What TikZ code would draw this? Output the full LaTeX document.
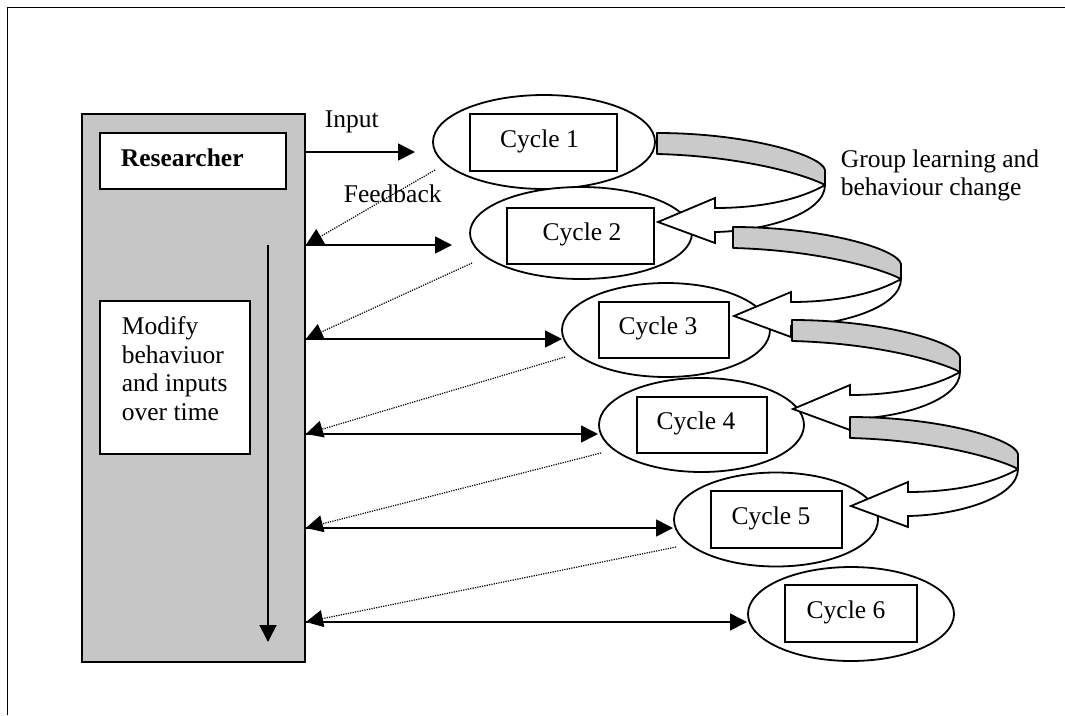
\documentclass[tikz,border=0pt]{standalone}
\usepackage{fontspec}
\setmainfont{Liberation Serif}
\usetikzlibrary{arrows.meta,shapes.geometric}
\definecolor{panelgray}{RGB}{198,198,198}
\definecolor{ribbongray}{RGB}{202,202,202}

\tikzset{
  % twisted block arrow: grey back face going right, white front face returning as an arrow
  ribbon/.pic={
    \draw[fill=ribbongray, line join=round]
      (0,0) .. controls (90,0) and (165,22) .. (168,37) -- (168,52)
      .. controls (145,40) and (80,23) .. (0,21) -- cycle;
    \draw[fill=white, line join=miter]
      (168,52) .. controls (140,68) and (100,75) .. (58,75) -- (58,65) -- (1,89)
      -- (58,110) -- (58,99) .. controls (110,98) and (168,80) .. (168,52) -- cycle;
  }
}

\begin{document}
\begin{tikzpicture}[x=1pt,y=-1pt,line width=1.8pt,
  font=\fontsize{25.5}{28.6}\selectfont,
  cyc/.style={ellipse, draw, fill=white, inner sep=0pt, minimum height=94pt},
  cbox/.style={rectangle, draw, fill=white, inner sep=0pt, minimum height=57pt},
  lbl/.style={inner sep=0pt},
  tip/.style={line width=1.6pt, -{Triangle[length=17pt,width=17pt]}},
  fb/.style={line width=1.2pt, dash pattern=on 1.2pt off 1.2pt, -{Triangle[length=17pt,width=17pt]}}
]
\useasboundingbox (0,0) rectangle (1065,715);

% frame
\draw[line width=1.5pt] (7.5,715) -- (7.5,7.5) -- (1065,7.5);

% researcher panel
\node[draw, fill=panelgray, minimum width=223pt, minimum height=548pt, inner sep=0pt] (res) at (193.5,388) {};
\node[draw, fill=white, minimum width=186pt, minimum height=56pt, inner sep=0pt] (rbox) at (193,161) {};
\node[lbl, anchor=base west, font=\fontsize{25.5}{28.6}\selectfont\bfseries] (rtxt) at (120,166) {Researcher};
\node[draw, fill=white, minimum width=150pt, minimum height=153pt, inner sep=0pt] (mbox) at (175,377.5) {};
\node[lbl, anchor=north west, align=left] (mtxt) at (121,315.6) {Modify\\behaviuor\\and inputs\\over time};
\coordinate (vtop) at (268,245);
\coordinate (vbot) at (268,642);
\draw[tip] (vtop) -- (vbot);

% cycles
\node[cyc, minimum width=222pt] (e1) at (544,142) {};
\node[cbox, minimum width=147pt] (b1) at (543.5,142.5) {};
\node[lbl] (t1) at (539.5,141) {Cycle 1};

\node[cyc, minimum width=222pt, minimum height=92pt] (e2) at (581,233) {};
\node[cbox, minimum width=147pt, minimum height=56pt] (b2) at (580.5,236) {};
\node[lbl] (t2) at (582,234.5) {Cycle 2};

\node[cyc, minimum width=208pt] (e3) at (666,330) {};
\node[cbox, minimum width=130pt, minimum height=56pt] (b3) at (664,330) {};
\node[lbl] (t3) at (658,328.5) {Cycle 3};

\node[cyc, minimum width=205pt] (e4) at (701.5,425) {};
\node[cbox, minimum width=130pt, minimum height=56pt] (b4) at (702,425) {};
\node[lbl] (t4) at (696,423.5) {Cycle 4};

\node[cyc, minimum width=204pt] (e5) at (776,519.5) {};
\node[cbox, minimum width=131pt] (b5) at (776.5,519.5) {};
\node[lbl] (t5) at (771,518) {Cycle 5};

\node[cyc, minimum width=206pt] (e6) at (851,614) {};
\node[cbox, minimum width=132pt] (b6) at (851,613.5) {};
\node[lbl] (t6) at (846,612) {Cycle 6};

% group learning ribbons
\pic at (657,133) {ribbon};
\pic at (733,227) {ribbon};
\pic at (792,320) {ribbon};
\pic at (850,417) {ribbon};

% labels
\node[lbl, anchor=base west] (inp) at (324,127) {Input};
\node[lbl, anchor=base west] (fbk) at (343,202) {Feedback};
\node[lbl, anchor=north west, align=left] (glc) at (840,148.6) {Group learning and\\behaviour change};

% inputs to the cycles
\coordinate (a1) at (415,152);
\coordinate (a2) at (452,245);
\coordinate (a3) at (562,339);
\coordinate (a4) at (598,434);
\coordinate (a5) at (673,528);
\coordinate (a6) at (747,622);
\draw[tip] (res.east |- a1) -- (a1);
\draw[tip] (res.east |- a2) -- (a2);
\draw[tip] (res.east |- a3) -- (a3);
\draw[tip] (res.east |- a4) -- (a4);
\draw[tip] (res.east |- a5) -- (a5);
\draw[tip] (res.east |- a6) -- (a6);

% feedback from the cycles
\coordinate (f1) at (435,170);
\coordinate (f2) at (472,263);
\coordinate (f3) at (565,357);
\coordinate (f4) at (601,453);
\coordinate (f5) at (676,547);
\draw[fb] (f1) -- (res.east |- a2);
\draw[fb] (f2) -- (res.east |- a3);
\draw[fb] (f3) -- (res.east |- a4);
\draw[fb] (f4) -- (res.east |- a5);
\draw[fb] (f5) -- (res.east |- a6);
\end{tikzpicture}
\end{document}
